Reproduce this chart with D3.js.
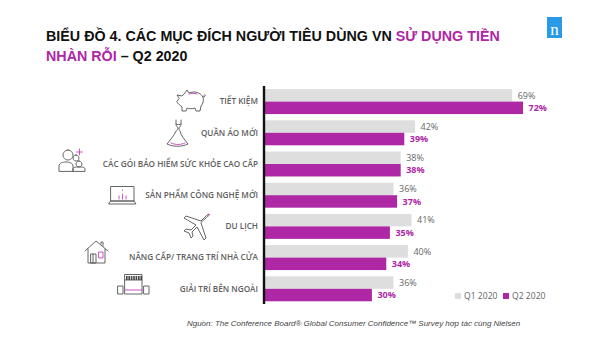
<!DOCTYPE html>
<html>
<head>
<meta charset="utf-8">
<script src="https://cdn.jsdelivr.net/npm/d3@7"></script>
<style>
  html, body { margin: 0; padding: 0; background: #fff; }
  svg { display: block; }
</style>
</head>
<body>
<div id="chart"></div>
<script>
const categories = ["TIẾT KIỆM", "QUẦN ÁO MỚI", "CÁC GÓI BẢO HIỂM SỨC KHỎE CAO CẤP",
  "SẢN PHẨM CÔNG NGHỆ MỚI", "DU LỊCH", "NÂNG CẤP/ TRANG TRÍ NHÀ CỬA", "GIẢI TRÍ BÊN NGOÀI"];
const seriesNames = ["Q1 2020", "Q2 2020"];
const q1Values = [69, 42, 38, 36, 41, 40, 36];
const q2Values = [72, 39, 38, 37, 35, 34, 30];

const width = 600, height = 355;
const grey = "#dedede", purple = "#ae27a5", labelGrey = "#666666", iconGrey = "#555555";

const svg = d3.select("#chart").append("svg")
  .attr("width", width)
  .attr("height", height)
  .attr("viewBox", [0, 0, width, height]);

// Title
const title = svg.append("g")
  .attr("font-family", "'Liberation Sans', Arial, sans-serif")
  .attr("font-weight", "bold")
  .attr("font-size", "14.3px");
const line1 = title.append("text").attr("x", 46).attr("y", 41).attr("fill", "#111");
line1.append("tspan").text("BIỂU ĐỒ 4. CÁC MỤC ĐÍCH NGƯỜI TIÊU DÙNG VN ");
line1.append("tspan").attr("fill", purple).text("SỬ DỤNG TIỀN");
const line2 = title.append("text").attr("x", 46).attr("y", 61).attr("fill", "#111");
line2.append("tspan").attr("fill", purple).text("NHÀN RỖI");
line2.append("tspan").text(" – Q2 2020");

// Logo
svg.append("rect").attr("x", 547).attr("y", 17).attr("width", 15).attr("height", 21).attr("fill", "#2b9ae6");
svg.append("text").attr("x", 554.5).attr("y", 35)
  .attr("text-anchor", "middle")
  .attr("font-family", "'Liberation Serif', serif")
  .attr("font-size", "17px")
  .attr("fill", "#fff")
  .text("n");

// Scales
const xScale = d3.scaleLinear().domain([0, 72]).range([264, 523]);
const yScale = d3.scaleBand()
  .domain(d3.range(categories.length))
  .range([86, 304.4])
  .paddingInner(0.2)
  .paddingOuter(0.1);
const barH = yScale.bandwidth() / 2;

// Bars
const rows = svg.selectAll(".row")
  .data(categories)
  .enter()
  .append("g")
    .attr("class", "row")
    .attr("transform", (d, i) => `translate(0,${yScale(i)})`);

rows.append("rect")
  .attr("x", xScale(0))
  .attr("y", 0)
  .attr("width", (d, i) => xScale(q1Values[i]) - xScale(0))
  .attr("height", barH)
  .attr("fill", grey);

rows.append("rect")
  .attr("x", xScale(0))
  .attr("y", barH)
  .attr("width", (d, i) => xScale(q2Values[i]) - xScale(0))
  .attr("height", barH)
  .attr("fill", purple);

// Value labels
const labelFont = "'Open Sans', sans-serif";
rows.append("text")
  .attr("x", (d, i) => xScale(q1Values[i]) + 5.5)
  .attr("y", barH / 2)
  .attr("dy", "0.35em")
  .attr("font-family", labelFont)
  .attr("font-size", "9px")
  .attr("fill", labelGrey)
  .text((d, i) => q1Values[i] + "%");

rows.append("text")
  .attr("x", (d, i) => xScale(q2Values[i]) + 5.5)
  .attr("y", barH * 1.5)
  .attr("dy", "0.35em")
  .attr("font-family", labelFont)
  .attr("font-weight", "bold")
  .attr("font-size", "9px")
  .attr("fill", purple)
  .text((d, i) => q2Values[i] + "%");

// Category labels
rows.append("text")
  .attr("x", 258)
  .attr("y", yScale.bandwidth() / 2)
  .attr("dy", "0.35em")
  .attr("text-anchor", "end")
  .attr("font-family", labelFont)
  .attr("font-weight", 600)
  .attr("font-size", "8.2px")
  .attr("fill", "#606060")
  .text(d => d);

// Axis line
svg.append("line")
  .attr("x1", xScale(0)).attr("x2", xScale(0))
  .attr("y1", 86).attr("y2", 304)
  .attr("stroke", "#111")
  .attr("stroke-width", 2.4);

// Legend
const legend = svg.selectAll(".legend")
  .data(seriesNames)
  .enter()
  .append("g")
    .attr("class", "legend")
    .attr("transform", (d, i) => `translate(${455 + i * 48},293)`);
legend.append("rect")
  .attr("width", 6).attr("height", 6)
  .attr("fill", (d, i) => i === 0 ? grey : purple);
legend.append("text")
  .attr("x", 9).attr("y", 3)
  .attr("dy", "0.35em")
  .attr("font-family", labelFont)
  .attr("font-size", "8.6px")
  .attr("fill", labelGrey)
  .text(d => d);

// Source
svg.append("text")
  .attr("x", 187).attr("y", 326)
  .attr("font-family", "'Liberation Sans', Arial, sans-serif")
  .attr("font-style", "italic")
  .attr("font-size", "7.98px")
  .attr("fill", "#444")
  .text("Nguồn: The Conference Board® Global Consumer Confidence™ Survey hợp tác cùng Nielsen");

// Icons, thin outline drawings placed by hand
function icon(x, y, paths, accents) {
  const g = svg.append("g")
    .attr("transform", `translate(${x},${y})`)
    .attr("fill", "none")
    .attr("stroke-linejoin", "round")
    .attr("stroke-linecap", "round");
  g.selectAll(".p").data(paths).enter().append("path")
    .attr("d", d => d).attr("stroke", iconGrey).attr("stroke-width", 0.9);
  g.selectAll(".a").data(accents).enter().append("path")
    .attr("d", d => d).attr("stroke", "#c63fbd").attr("stroke-width", 0.9);
}

// pig
icon(176, 89, [
  "M3 9 L1 6 L6 7 L9 4 L11 1 L13 4 C18 2 24 3 27 8 C28 11 27 15 25 17 L24 22 L20 22 L19 19 C16 20 13 20 11 19 L10 22 L6 22 L6 18 C4 16 2 15 1 13 Z",
  "M27 8 C30 8 30 5 28 6"
], ["M13 5 C16 4 18 4 21 5"]);
// dress
icon(167, 118, [
  "M9 2 L9 6 C9 9 11 9 11 10 C11 12 9 13 9 13 C7 18 3 22 0 26 C6 29 15 29 21 26 C18 22 14 18 13 13 C13 13 12 12 12 10 C12 9 14 9 14 6 L14 2",
  "M9 6 C10 7 13 7 14 6"
], ["M4 25 C9 27 13 27 18 25"]);
// people
icon(58, 148, [
  "M10 2 a5 5 0 1 0 0.01 0 Z M1 23 L1 18 C1 15 5 14 8 14 C11 14 15 15 15 18 L15 23 Z",
  "M18 7 a3 3 0 1 0 0.01 0 Z",
  "M21 13 a3 3 0 1 0 0.01 0 Z M15 23 L15 21 C15 19 18 19 21 19 C24 19 27 19 27 21 L27 23 Z"
], ["M21.5 1 L21.5 7 M18.5 4 L24.5 4"]);
// laptop
icon(109, 186, [
  "M2 0.5 L25 0.5 L25 15 L2 15 Z",
  "M0 18 L27 18 L25 15 L2 15 Z"
], ["M10 13 L10 10 M13.5 13 L13.5 8 M17 13 L17 10 M13.5 4 L13.5 4.5"]);
// plane
icon(183, 213, [
  "M24 4 C25 3 27 2 26.5 1.5 C26 1 24 2 23 3 L18 8 L3 3 L1 5 L13 12 L8 17 L3 16 L1 18 L6 20 L8 25 L10 23 L9 19 L14 14 L21 27 L23 25 L18 10 Z"
], ["M24 2 C25 1 26 1 26.5 1.5"]);
// house
icon(85, 240, [
  "M0 11 L11 1 L23 11",
  "M3 9 L3 23 L20 23 L20 9",
  "M6 14 L11 14 L11 23 L6 23 Z M8 14 L8 23",
  "M16 4 L16 2 L18 2 L18 6"
], ["M14 12 L18 12 L18 18 L14 18 Z"]);
// stage
icon(118, 274, [
  "M7 0.5 L24 0.5 L24 20 L7 20 Z",
  "M0 12 L5 12 L5 20 L0 20 Z M26 12 L31 12 L31 20 L26 20 Z",
  "M7 6 L24 6"
], ["M7 16 L24 16"]);
svg.append("path")
  .attr("d", d3.range(7).map(i => `M${126 + i * 2.4} 276 h1.6 v4 h-1.6 Z`).join(" "))
  .attr("fill", "#444");
</script>
</body>
</html>
